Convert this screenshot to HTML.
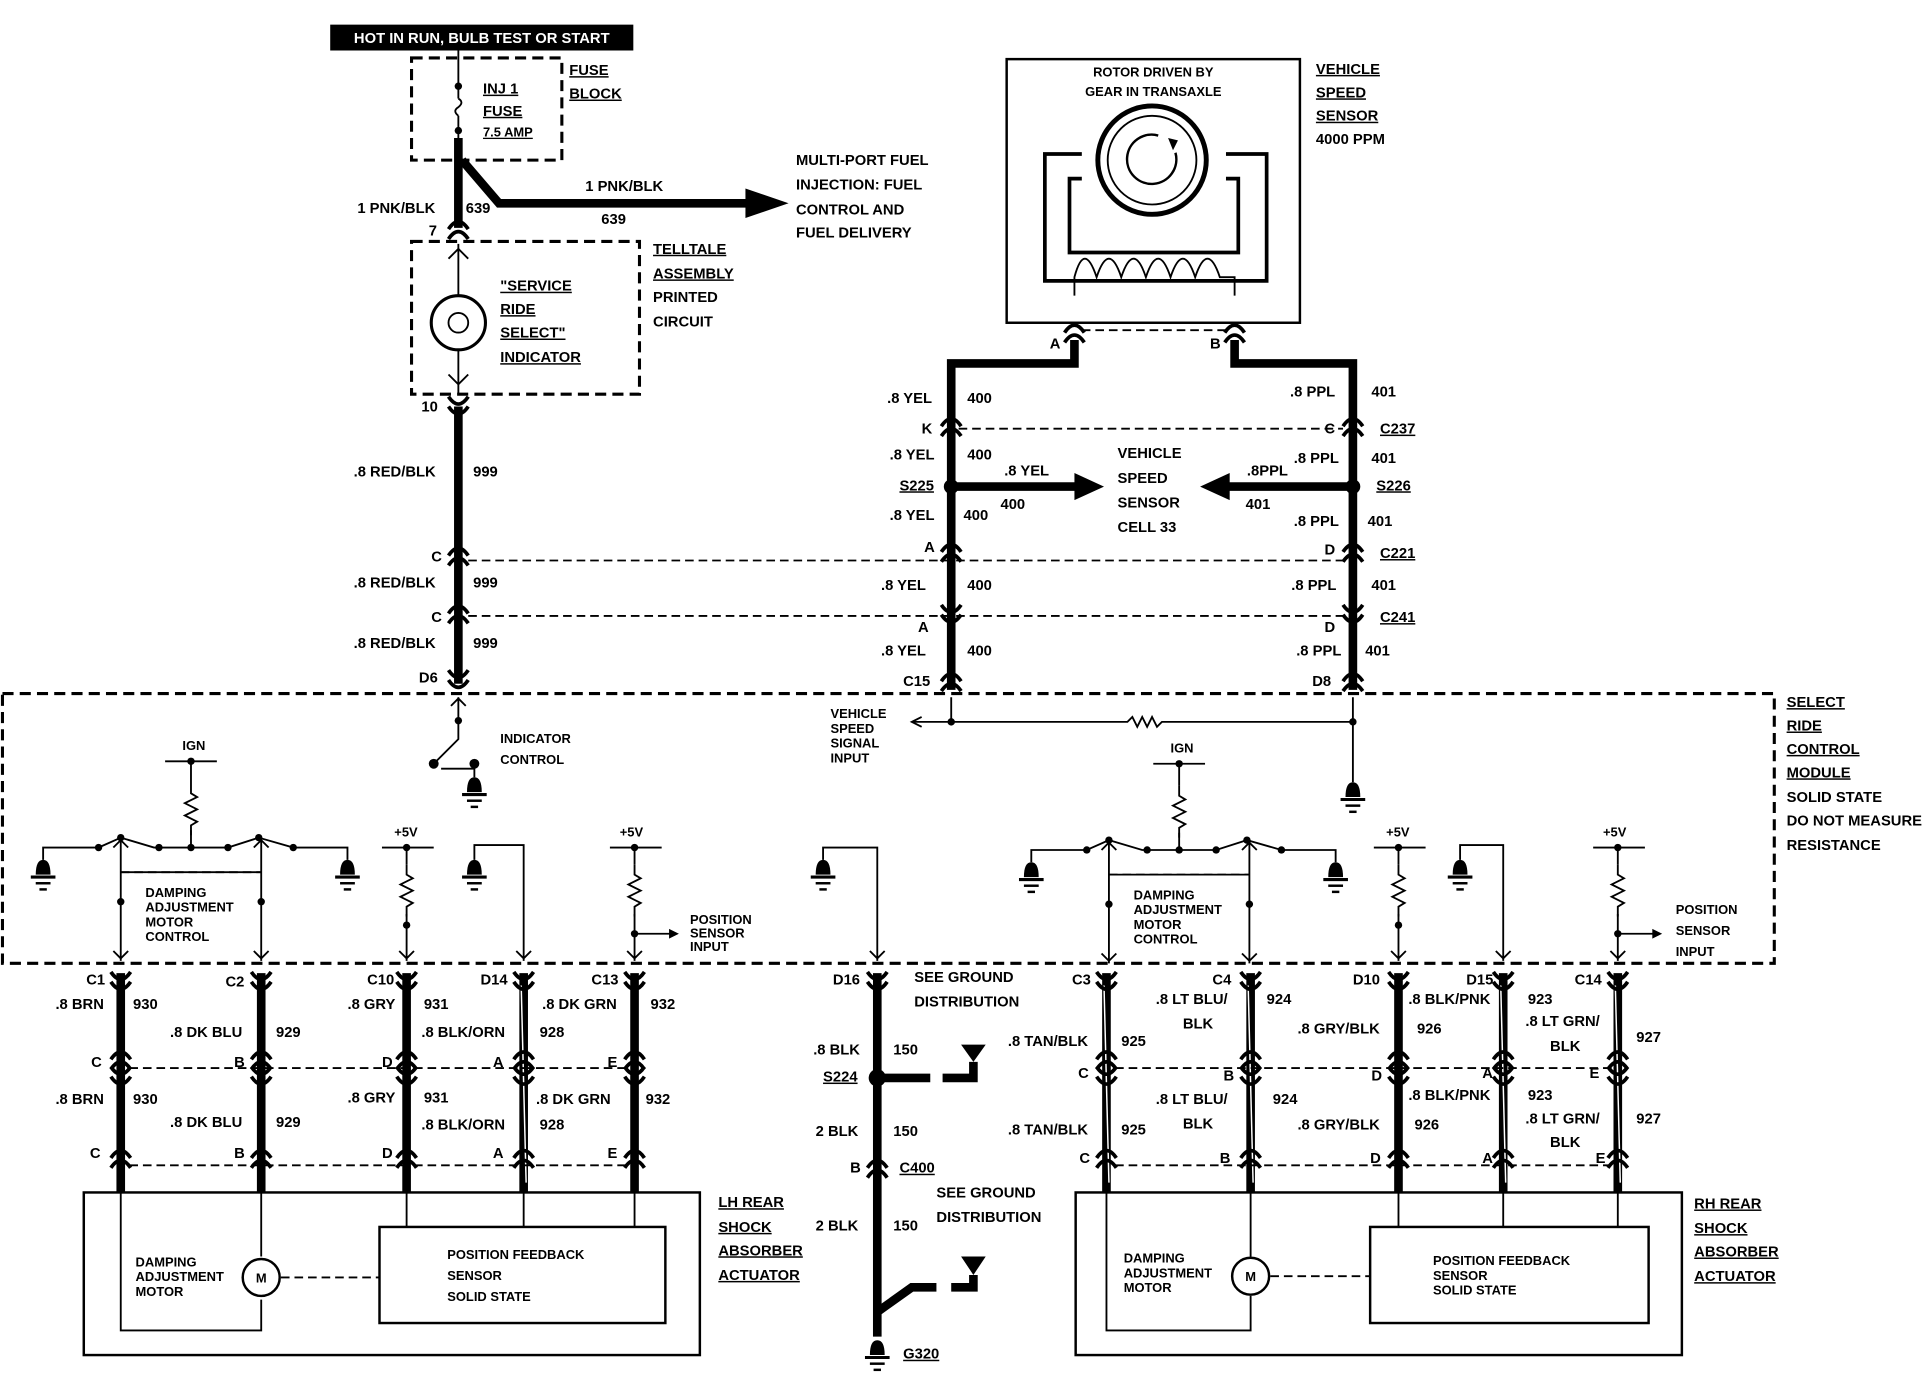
<!DOCTYPE html>
<html><head><meta charset="utf-8"><style>
html,body{margin:0;padding:0;background:#fff;}
svg{display:block;}
text{font-family:"Liberation Sans",sans-serif;font-weight:bold;font-size:12px;fill:#000;}
.s{font-size:10.5px;}
.w{stroke:#000;stroke-width:7;fill:none;}
.t{stroke:#000;stroke-width:1.5;fill:none;}
.d{stroke:#000;stroke-width:2.5;fill:none;stroke-dasharray:9 5;}
.dl{stroke:#000;stroke-width:1.5;fill:none;stroke-dasharray:7 4;}
.u{text-decoration:underline;}
</style></head><body>
<svg width="1932" height="1376" viewBox="0 0 1568 1117" preserveAspectRatio="none" xmlns="http://www.w3.org/2000/svg">
<defs>
<g id="c"><path d="M-8 6 Q0 -6 8 6 M-8 -2 Q0 -14 8 -2" stroke="#000" stroke-width="3" fill="none"/></g>
<g id="cd"><path d="M-8 -6 Q0 6 8 -6 M-8 2 Q0 14 8 2" stroke="#000" stroke-width="3" fill="none"/></g>
<g id="g"><path d="M-6 0 Q-6 -12 0 -12 Q6 -12 6 0Z" fill="#000"/><line x1="-10" y1="2" x2="10" y2="2" stroke="#000" stroke-width="2.5"/><line x1="-6" y1="7" x2="6" y2="7" stroke="#000" stroke-width="2"/><line x1="-3" y1="12" x2="3" y2="12" stroke="#000" stroke-width="2"/></g>
<g id="r"><path d="M0 0 v8 l5 3 -10 5 10 5 -10 5 10 5 -5 3 v8" stroke="#000" stroke-width="1.5" fill="none"/></g>
</defs>
<!-- top -->
<rect x="268" y="20" width="246" height="21" fill="#000"/>
<text x="391" y="35" text-anchor="middle" style="fill:#fff">HOT IN RUN, BULB TEST OR START</text>
<rect x="334" y="47" width="122" height="83" class="d"/>
<line x1="372" y1="41" x2="372" y2="80" class="t"/><circle cx="372" cy="70" r="3"/>
<path d="M372 80 q5 3 0 7 q-5 3 0 7" class="t"/><line x1="372" y1="94" x2="372" y2="130" class="t"/><circle cx="372" cy="106" r="3"/>
<text x="392" y="76" class="u">INJ 1</text><text x="392" y="94" class="u">FUSE</text><text x="392" y="111" class="s u">7.5 AMP</text>
<text x="462" y="61" class="u">FUSE</text><text x="462" y="80" class="u">BLOCK</text>
<path d="M372 112 L372 185" class="w"/>
<path d="M375 130 L405 165 L610 165" class="w"/><path d="M605 153 L640 165 L605 177Z"/>
<text x="475" y="155">1 PNK/BLK</text><text x="488" y="182">639</text>
<text x="290" y="173">1 PNK/BLK</text><text x="378" y="173">639</text><text x="348" y="191">7</text>
<text x="646" y="134">MULTI-PORT   FUEL</text><text x="646" y="154">INJECTION: FUEL</text><text x="646" y="174">CONTROL AND</text><text x="646" y="193">FUEL DELIVERY</text>
<use href="#c" x="372" y="188"/>
<rect x="334" y="196" width="185" height="124" class="d"/>
<line x1="372" y1="198" x2="372" y2="320" class="t"/>
<circle cx="372" cy="262" r="22" fill="#fff" stroke="#000" stroke-width="2.5"/>
<circle cx="372" cy="262" r="8" class="t"/>
<path d="M364 210 l8 -8 8 8 M364 304 l8 8 8 -8" class="t"/>
<text x="406" y="236" class="u">"SERVICE</text><text x="406" y="255" class="u">RIDE</text><text x="406" y="274" class="u">SELECT"</text><text x="406" y="294" class="u">INDICATOR</text>
<text x="530" y="206" class="u">TELLTALE</text><text x="530" y="226" class="u">ASSEMBLY</text><text x="530" y="245">PRINTED</text><text x="530" y="265">CIRCUIT</text>
<!-- left wire 999 -->
<path d="M372 330 L372 555" class="w"/>
<use href="#cd" x="372" y="328"/><use href="#c" x="372" y="453"/><use href="#c" x="372" y="500"/><use href="#cd" x="372" y="550"/>
<text x="342" y="334">10</text><text x="287" y="387">.8 RED/BLK</text><text x="384" y="387">999</text>
<text x="350" y="456">C</text><text x="287" y="477">.8 RED/BLK</text><text x="384" y="477">999</text>
<text x="350" y="505">C</text><text x="287" y="526">.8 RED/BLK</text><text x="384" y="526">999</text><text x="340" y="554">D6</text>
<line x1="380" y1="455" x2="1095" y2="455" class="dl"/><line x1="380" y1="500" x2="1095" y2="500" class="dl"/>
<line x1="778" y1="348" x2="1090" y2="348" class="dl"/>
<!-- VSS -->
<rect x="817" y="48" width="238" height="214" fill="none" stroke="#000" stroke-width="2"/>
<text x="936" y="62" text-anchor="middle" class="s">ROTOR DRIVEN BY</text><text x="936" y="78" text-anchor="middle" class="s">GEAR IN TRANSAXLE</text>
<path d="M878 125 H848 V228 H1028 V125 H995 M878 145 H868 V205 H1005 V145 H995" stroke="#000" stroke-width="3" fill="none"/>
<circle cx="935" cy="130" r="44" stroke="#000" stroke-width="4" fill="#fff"/>
<circle cx="935" cy="130" r="36" class="t"/>
<path d="M940 110 a20 20 0 1 0 14 14" stroke="#000" stroke-width="2" fill="none"/><path d="M948 112 l8 2 -4 8z"/>
<path d="M872 240 L872 225 Q880 195 890 225 Q900 195 910 225 Q920 195 930 225 Q940 195 950 225 Q960 195 970 225 Q980 195 990 225 L1002 225 L1002 240" class="t"/>
<text x="1068" y="60" class="u">VEHICLE</text><text x="1068" y="79" class="u">SPEED</text><text x="1068" y="98" class="u">SENSOR</text><text x="1068" y="117">4000 PPM</text>
<line x1="878" y1="268" x2="998" y2="268" class="dl"/>
<use href="#c" x="872" y="272"/><use href="#c" x="1002" y="272"/>
<text x="852" y="283">A</text><text x="982" y="283">B</text>
<path d="M872 276 V295 H772 V560" class="w"/><path d="M1002 276 V295 H1098 V560" class="w"/>
<text x="720" y="327">.8 YEL</text><text x="785" y="327">400</text><text x="1047" y="322">.8 PPL</text><text x="1113" y="322">401</text>
<use href="#c" x="772" y="348"/><use href="#c" x="1098" y="348"/><text x="748" y="352">K</text><text x="1075" y="352">C</text><text x="1120" y="352" class="u">C237</text>
<text x="722" y="373">.8 YEL</text><text x="785" y="373">400</text><text x="1050" y="376">.8 PPL</text><text x="1113" y="376">401</text>
<circle cx="772" cy="395" r="6"/><circle cx="1098" cy="395" r="6"/>
<text x="730" y="398" class="u">S225</text><text x="1117" y="398" class="u">S226</text>
<path d="M772 395 H875" class="w"/><path d="M872 384 L896 395 L872 406Z"/>
<path d="M1098 395 H995" class="w"/><path d="M998 384 L974 395 L998 406Z"/>
<text x="815" y="386">.8 YEL</text><text x="812" y="413">400</text><text x="1012" y="386">.8PPL</text><text x="1011" y="413">401</text>
<text x="907" y="372">VEHICLE</text><text x="907" y="392">SPEED</text><text x="907" y="412">SENSOR</text><text x="907" y="432">CELL 33</text>
<text x="722" y="422">.8 YEL</text><text x="782" y="422">400</text><text x="1050" y="427">.8 PPL</text><text x="1110" y="427">401</text>
<use href="#c" x="772" y="450"/><use href="#c" x="1098" y="450"/><text x="750" y="448">A</text><text x="1075" y="450">D</text><text x="1120" y="453" class="u">C221</text>
<text x="715" y="479">.8 YEL</text><text x="785" y="479">400</text><text x="1048" y="479">.8 PPL</text><text x="1113" y="479">401</text>
<use href="#cd" x="772" y="497"/><use href="#cd" x="1098" y="497"/><text x="745" y="513">A</text><text x="1075" y="513">D</text><text x="1120" y="505" class="u">C241</text>
<text x="715" y="532">.8 YEL</text><text x="785" y="532">400</text><text x="1052" y="532">.8 PPL</text><text x="1108" y="532">401</text>
<use href="#c" x="772" y="555"/><use href="#c" x="1098" y="555"/><text x="733" y="557">C15</text><text x="1065" y="557">D8</text>
<!-- module -->
<rect x="2" y="563" width="1438" height="219" class="d"/>
<text x="1450" y="574" class="u">SELECT</text><text x="1450" y="593" class="u">RIDE</text><text x="1450" y="612" class="u">CONTROL</text><text x="1450" y="631" class="u">MODULE</text><text x="1450" y="651">SOLID STATE</text><text x="1450" y="670">DO NOT MEASURE</text><text x="1450" y="690">RESISTANCE</text>
<!-- indicator control -->
<path d="M372 566 V600 L352 620 M358 624 H385" class="t"/><circle cx="372" cy="585" r="3"/><circle cx="352" cy="620" r="4"/><circle cx="385" cy="620" r="4"/>
<use href="#g" x="385" y="643"/><line x1="385" y1="620" x2="385" y2="631" class="t"/>
<path d="M366 573 l6 -6 6 6" class="t"/>
<text x="406" y="603" class="s">INDICATOR</text><text x="406" y="620" class="s">CONTROL</text>
<!-- VSS signal -->
<path d="M772 566 V586 M740 586 H915 l4 -4 4 8 4 -8 4 8 4 -8 4 8 4 -4 H1098 V635 M1098 566 V586" class="t"/>
<circle cx="772" cy="586" r="3"/><circle cx="1098" cy="586" r="3"/><path d="M748 582 l-8 4 8 4" class="t"/>
<use href="#g" x="1098" y="647"/>
<text x="674" y="583" class="s">VEHICLE</text><text x="674" y="595" class="s">SPEED</text><text x="674" y="607" class="s">SIGNAL</text><text x="674" y="619" class="s">INPUT</text>
<!-- LH module internals -->
<g id="lhm">
<text x="148" y="609" class="s">IGN</text><path d="M134 618 H176 M155 618 V636" class="t"/><circle cx="155" cy="618" r="3"/><use href="#r" x="155" y="636"/>
<path d="M35 698 V688 H80 L98 680 L125 688 H185 L210 680 L238 688 H282 V698 M155 674 V688" class="t"/>
<circle cx="80" cy="688" r="3"/><circle cx="98" cy="680" r="3"/><circle cx="129" cy="688" r="3"/><circle cx="155" cy="688" r="3"/><circle cx="185" cy="688" r="3"/><circle cx="210" cy="680" r="3"/><circle cx="238" cy="688" r="3"/>
<use href="#g" x="35" y="710"/><use href="#g" x="282" y="710"/>
<path d="M98 680 V780 M212 680 V780 M98 708 H212" class="t"/><line x1="98" y1="708" x2="212" y2="708" class="dl"/>
<circle cx="98" cy="732" r="3"/><circle cx="212" cy="732" r="3"/>
<path d="M92 688 l6 -6 6 6 M206 688 l6 -6 6 6 M92 772 l6 6 6 -6 M206 772 l6 6 6 -6" class="t"/>
<text x="118" y="728" class="s">DAMPING</text><text x="118" y="740" class="s">ADJUSTMENT</text><text x="118" y="752" class="s">MOTOR</text><text x="118" y="764" class="s">CONTROL</text>
</g>
<use href="#lhm" x="802" y="2"/>
<text x="1018" y="696" class="s" style="display:none"></text>
<!-- +5V resistors etc LH -->
<g id="p5">
<text x="320" y="679" class="s">+5V</text><path d="M310 688 H352 M330 688 V702" class="t"/><circle cx="330" cy="688" r="3"/><use href="#r" x="330" y="702"/><path d="M330 742 V780 M324 772 l6 6 6 -6" class="t"/><circle cx="330" cy="751" r="3"/>
</g>
<path d="M385 698 V686 H425 V780 M419 772 l6 6 6 -6" class="t"/><use href="#g" x="385" y="710"/>
<g id="p5b"><text x="503" y="679" class="s">+5V</text><path d="M495 688 H537 M515 688 V702" class="t"/><circle cx="515" cy="688" r="3"/><use href="#r" x="515" y="702"/><path d="M515 742 V780 M509 772 l6 6 6 -6 M515 758 H545" class="t"/><circle cx="515" cy="758" r="3"/><path d="M543 754 l8 4 -8 4Z"/></g>
<text x="560" y="750" class="s">POSITION</text><text x="560" y="761" class="s">SENSOR</text><text x="560" y="772" class="s">INPUT</text>
<path d="M668 698 V688 H712 V780 M706 772 l6 6 6 -6" class="t"/><use href="#g" x="668" y="710"/>
<!-- RH +5V -->
<use href="#p5" x="805" y="0"/>
<path d="M1185 698 V686 H1220 V780 M1214 772 l6 6 6 -6" class="t"/><use href="#g" x="1185" y="710"/>
<use href="#p5b" x="798" y="0"/>
<text x="1360" y="742" class="s">POSITION</text><text x="1360" y="759" class="s">SENSOR</text><text x="1360" y="776" class="s">INPUT</text>
<!-- lower wires LH -->
<path d="M98 790 V968 M212 790 V968 M330 790 V968 M425 790 V968 M515 790 V968 M712 790 V1085 M898 790 V968 M1015 790 V968 M1135 790 V968 M1220 790 V968 M1313 790 V968" class="w"/>
<g stroke="#fff" stroke-width="1.2">
<path d="M423 800 L427 960 M896 800 L900 960 M1013 800 L1017 960 M1218 800 L1222 960 M1311 800 L1315 960"/></g>
<g id="cons">
<use href="#cd" x="98" y="795"/><use href="#cd" x="212" y="795"/><use href="#cd" x="330" y="795"/><use href="#cd" x="425" y="795"/><use href="#cd" x="515" y="795"/>
<use href="#c" x="98" y="862"/><use href="#c" x="212" y="862"/><use href="#c" x="330" y="862"/><use href="#c" x="425" y="862"/><use href="#c" x="515" y="862"/>
<use href="#cd" x="98" y="872"/><use href="#cd" x="212" y="872"/><use href="#cd" x="330" y="872"/><use href="#cd" x="425" y="872"/><use href="#cd" x="515" y="872"/>
<use href="#c" x="98" y="942"/><use href="#c" x="212" y="942"/><use href="#c" x="330" y="942"/><use href="#c" x="425" y="942"/><use href="#c" x="515" y="942"/>
</g>
<line x1="105" y1="867" x2="510" y2="867" class="dl"/><line x1="105" y1="946" x2="510" y2="946" class="dl"/>
<use href="#cd" x="898" y="795"/><use href="#cd" x="1015" y="795"/><use href="#cd" x="1135" y="795"/><use href="#cd" x="1220" y="795"/><use href="#cd" x="1313" y="795"/>
<use href="#c" x="898" y="862"/><use href="#c" x="1015" y="862"/><use href="#c" x="1135" y="862"/><use href="#c" x="1220" y="862"/><use href="#c" x="1313" y="862"/>
<use href="#cd" x="898" y="872"/><use href="#cd" x="1015" y="872"/><use href="#cd" x="1135" y="872"/><use href="#cd" x="1220" y="872"/><use href="#cd" x="1313" y="872"/>
<use href="#c" x="898" y="942"/><use href="#c" x="1015" y="942"/><use href="#c" x="1135" y="942"/><use href="#c" x="1220" y="942"/><use href="#c" x="1313" y="942"/>
<line x1="905" y1="867" x2="1308" y2="867" class="dl"/><line x1="905" y1="946" x2="1308" y2="946" class="dl"/>
<!-- LH labels -->
<text x="70" y="799">C1</text><text x="183" y="801">C2</text><text x="298" y="799">C10</text><text x="390" y="799">D14</text><text x="480" y="799">C13</text>
<text x="45" y="819">.8 BRN</text><text x="108" y="819">930</text><text x="138" y="842">.8 DK BLU</text><text x="224" y="842">929</text>
<text x="282" y="819">.8 GRY</text><text x="344" y="819">931</text><text x="342" y="842">.8 BLK/ORN</text><text x="438" y="842">928</text>
<text x="440" y="819">.8 DK GRN</text><text x="528" y="819">932</text>
<text x="74" y="866">C</text><text x="190" y="866">B</text><text x="310" y="866">D</text><text x="400" y="866">A</text><text x="493" y="866">E</text>
<text x="45" y="896">.8 BRN</text><text x="108" y="896">930</text><text x="138" y="915">.8 DK BLU</text><text x="224" y="915">929</text>
<text x="282" y="895">.8 GRY</text><text x="344" y="895">931</text><text x="342" y="917">.8 BLK/ORN</text><text x="438" y="917">928</text>
<text x="435" y="896">.8 DK GRN</text><text x="524" y="896">932</text>
<text x="73" y="940">C</text><text x="190" y="940">B</text><text x="310" y="940">D</text><text x="400" y="940">A</text><text x="493" y="940">E</text>
<!-- ground -->
<use href="#cd" x="712" y="795"/><text x="676" y="799">D16</text>
<text x="742" y="797">SEE GROUND</text><text x="742" y="817">DISTRIBUTION</text>
<text x="660" y="856">.8 BLK</text><text x="725" y="856">150</text>
<circle cx="712" cy="875" r="7"/><text x="668" y="878" class="u">S224</text>
<path d="M712 875 H755 M765 875 H790 V862" class="w"/><path d="M780 848 H800 L790 862Z"/>
<text x="662" y="922">2 BLK</text><text x="725" y="922">150</text>
<use href="#c" x="712" y="950"/><text x="690" y="952">B</text><text x="730" y="952" class="u">C400</text>
<text x="760" y="972">SEE GROUND</text><text x="760" y="992">DISTRIBUTION</text>
<text x="662" y="999">2 BLK</text><text x="725" y="999">150</text>
<path d="M712 1065 L740 1045 H760 M772 1045 H790 V1035" class="w"/><path d="M780 1020 H800 L790 1035Z"/>
<use href="#g" x="712" y="1100"/><text x="733" y="1103" class="u">G320</text>
<!-- RH labels -->
<text x="870" y="799">C3</text><text x="984" y="799">C4</text><text x="1098" y="799">D10</text><text x="1190" y="799">D15</text><text x="1278" y="799">C14</text>
<text x="938" y="815">.8 LT BLU/</text><text x="960" y="835">BLK</text><text x="1028" y="815">924</text>
<text x="818" y="849">.8 TAN/BLK</text><text x="910" y="849">925</text>
<text x="1053" y="839">.8 GRY/BLK</text><text x="1150" y="839">926</text>
<text x="1143" y="815">.8 BLK/PNK</text><text x="1240" y="815">923</text><text x="1238" y="833">.8 LT GRN/</text><text x="1258" y="853">BLK</text><text x="1328" y="846">927</text>
<text x="875" y="875">C</text><text x="993" y="877">B</text><text x="1113" y="877">D</text><text x="1203" y="875">A</text><text x="1290" y="875">E</text>
<text x="938" y="896">.8 LT BLU/</text><text x="960" y="916">BLK</text><text x="1033" y="896">924</text>
<text x="818" y="921">.8 TAN/BLK</text><text x="910" y="921">925</text>
<text x="1053" y="917">.8 GRY/BLK</text><text x="1148" y="917">926</text>
<text x="1143" y="893">.8 BLK/PNK</text><text x="1240" y="893">923</text><text x="1238" y="912">.8 LT GRN/</text><text x="1258" y="931">BLK</text><text x="1328" y="912">927</text>
<text x="876" y="944">C</text><text x="990" y="944">B</text><text x="1112" y="944">D</text><text x="1203" y="944">A</text><text x="1295" y="944">E</text>
<!-- LH actuator -->
<rect x="68" y="968" width="500" height="132" fill="none" stroke="#000" stroke-width="2"/>
<path d="M98 968 V1080 H212 V1055 M212 968 V1020 M330 968 V996 M425 968 V996 M515 968 V996" class="t"/>
<circle cx="212" cy="1037" r="15" fill="#fff" stroke="#000" stroke-width="2"/><text x="212" y="1041" text-anchor="middle" class="s">M</text>
<line x1="228" y1="1037" x2="308" y2="1037" class="dl"/>
<rect x="308" y="996" width="232" height="78" fill="none" stroke="#000" stroke-width="2"/>
<text x="363" y="1022" class="s">POSITION FEEDBACK</text><text x="363" y="1039" class="s">SENSOR</text><text x="363" y="1056" class="s">SOLID STATE</text>
<text x="110" y="1028" class="s">DAMPING</text><text x="110" y="1040" class="s">ADJUSTMENT</text><text x="110" y="1052" class="s">MOTOR</text>
<text x="583" y="980" class="u">LH REAR</text><text x="583" y="1000" class="u">SHOCK</text><text x="583" y="1019" class="u">ABSORBER</text><text x="583" y="1039" class="u">ACTUATOR</text>
<!-- RH actuator -->
<rect x="873" y="968" width="492" height="132" fill="none" stroke="#000" stroke-width="2"/>
<path d="M898 968 V1080 H1015 V1052 M1015 968 V1020 M1135 968 V996 M1220 968 V996 M1313 968 V996" class="t"/>
<circle cx="1015" cy="1036" r="15" fill="#fff" stroke="#000" stroke-width="2"/><text x="1015" y="1040" text-anchor="middle" class="s">M</text>
<line x1="1031" y1="1036" x2="1112" y2="1036" class="dl"/>
<rect x="1112" y="996" width="226" height="78" fill="none" stroke="#000" stroke-width="2"/>
<text x="1163" y="1027" class="s">POSITION FEEDBACK</text><text x="1163" y="1039" class="s">SENSOR</text><text x="1163" y="1051" class="s">SOLID STATE</text>
<text x="912" y="1025" class="s">DAMPING</text><text x="912" y="1037" class="s">ADJUSTMENT</text><text x="912" y="1049" class="s">MOTOR</text>
<text x="1375" y="981" class="u">RH REAR</text><text x="1375" y="1001" class="u">SHOCK</text><text x="1375" y="1020" class="u">ABSORBER</text><text x="1375" y="1040" class="u">ACTUATOR</text>
</svg>
</body></html>
